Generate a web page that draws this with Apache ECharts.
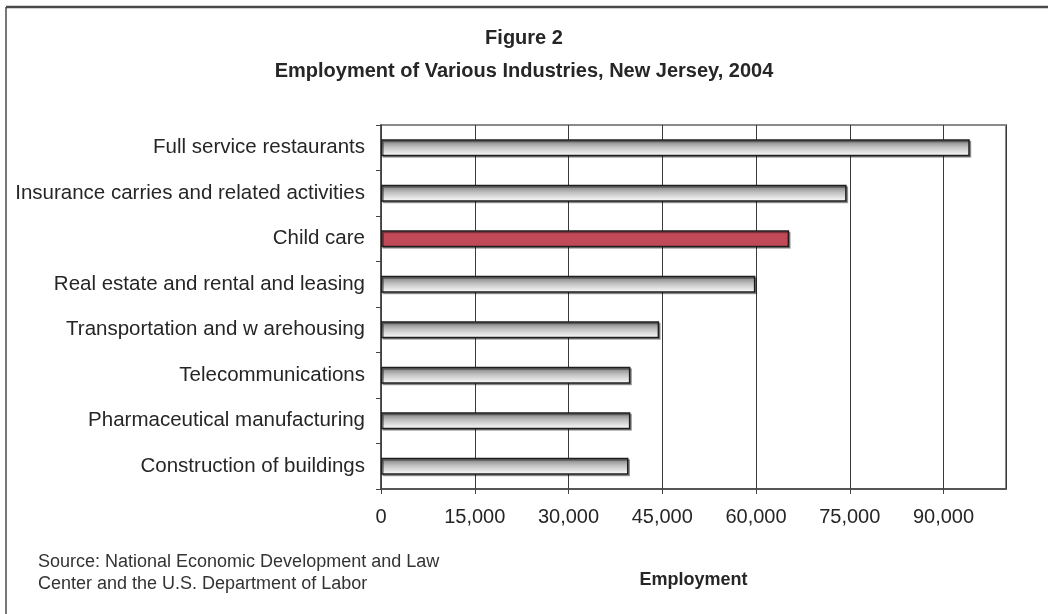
<!DOCTYPE html>
<html>
<head>
<meta charset="utf-8">
<title>Employment of Various Industries, New Jersey, 2004</title>
<script src="https://cdn.jsdelivr.net/npm/echarts@6/dist/echarts.min.js"></script>
<style>
  html, body { margin: 0; padding: 0; background: #ffffff; }
  #chart { width: 1048px; height: 614px; }
</style>
</head>
<body>
<div id="chart"></div>
<script>
// Industries, listed top to bottom
const industries = [
  'Full service restaurants',
  'Insurance carries and related activities',
  'Child care',
  'Real estate and rental and leasing',
  'Transportation and w arehousing',
  'Telecommunications',
  'Pharmaceutical manufacturing',
  'Construction of buildings'
];
// Employment, 2004
const employment = [94200, 74500, 65300, 59900, 44500, 39900, 39900, 39600];
// Industry drawn in the accent colour
const highlighted = 'Child care';

const xTicks = { min: 0, max: 100000, step: 15000 };

const FONT = '"Liberation Sans", Arial, sans-serif';
const TEXT = '#262626';

const greyFill = {
  type: 'linear', x: 0, y: 0, x2: 0, y2: 1,
  colorStops: [
    { offset: 0, color: '#747474' },
    { offset: 0.45, color: '#c0c0c0' },
    { offset: 1, color: '#ffffff' }
  ]
};

const barData = employment.map((v, i) => ({
  value: v,
  itemStyle: industries[i] === highlighted ? { color: '#c24a58' } : { color: greyFill }
}));

const chart = echarts.init(document.getElementById('chart'), null, { renderer: 'canvas' });

chart.setOption({
  backgroundColor: '#ffffff',
  animation: false,
  title: {
    text: 'Figure 2\nEmployment of Various Industries, New Jersey, 2004',
    left: 'center',
    top: 17,
    textStyle: {
      fontFamily: FONT, fontSize: 20, fontWeight: 'bold', color: TEXT, lineHeight: 33
    }
  },
  grid: {
    left: 381, right: 42, top: 125, bottom: 125,
    show: true, borderColor: '#8a8a8a', borderWidth: 2, backgroundColor: 'transparent'
  },
  xAxis: {
    type: 'value',
    min: xTicks.min,
    max: xTicks.max,
    interval: xTicks.step,
    name: 'Employment',
    nameLocation: 'middle',
    nameGap: 82,
    nameTextStyle: { fontFamily: FONT, fontSize: 18, fontWeight: 'bold', color: TEXT },
    axisLine: { show: true, lineStyle: { color: '#444', width: 1.5 } },
    axisTick: { show: true, length: 5, inside: false, lineStyle: { color: '#444' } },
    axisLabel: {
      fontFamily: FONT, fontSize: 20, color: TEXT, margin: 18,
      showMaxLabel: false,
      formatter: v => v.toLocaleString('en-US')
    },
    splitLine: { show: true, lineStyle: { color: '#3a3a3a', width: 1 } }
  },
  yAxis: {
    type: 'category',
    data: industries,
    inverse: true,
    axisLine: { show: true, lineStyle: { color: '#444', width: 1.5 } },
    axisTick: { show: true, length: 5, inside: false, lineStyle: { color: '#444' } },
    axisLabel: { fontFamily: FONT, fontSize: 20.5, color: TEXT, margin: 16 },
    splitLine: { show: false }
  },
  series: [{
    type: 'bar',
    data: barData,
    barWidth: 17,
    itemStyle: {
      borderColor: '#1e1e1e',
      borderWidth: 1.5,
      shadowColor: 'rgba(0,0,0,0.35)',
      shadowOffsetX: 1.5,
      shadowOffsetY: 1.5,
      shadowBlur: 0
    }
  }],
  graphic: [
    {
      type: 'line', silent: true,
      shape: { x1: 6, y1: 7, x2: 1048, y2: 7 },
      style: { stroke: '#4a4a4a', lineWidth: 2.5 }
    },
    {
      type: 'line', silent: true,
      shape: { x1: 6, y1: 7, x2: 6, y2: 614 },
      style: { stroke: '#4a4a4a', lineWidth: 1.5 }
    },
    {
      type: 'text', left: 38, top: 551, silent: true,
      style: {
        text: 'Source: National Economic Development and Law\nCenter and the U.S. Department of Labor',
        fontFamily: FONT, fontSize: 18, lineHeight: 22, fill: '#333'
      }
    }
  ]
});
</script>
</body>
</html>
